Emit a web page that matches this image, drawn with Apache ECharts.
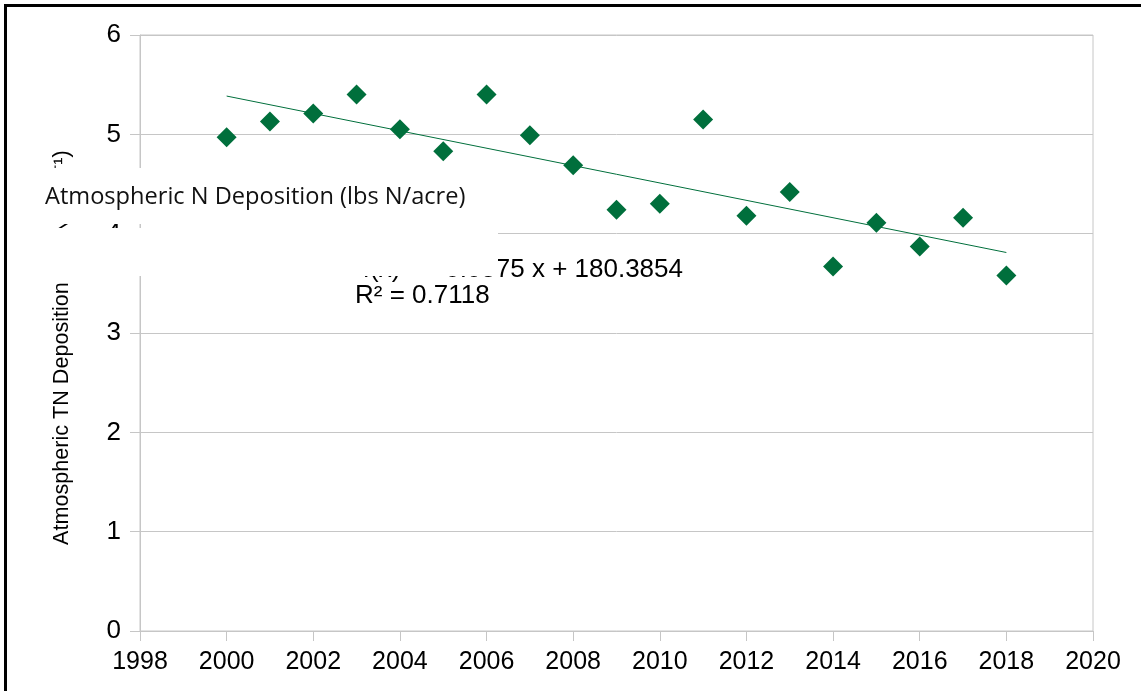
<!DOCTYPE html>
<html>
<head>
    <meta charset="utf-8">
    <title>Atmospheric N Deposition</title>
    <script src="https://cdn.jsdelivr.net/npm/echarts@6/dist/echarts.min.js"></script>
    <style>
        html, body, #main {
            width: 100%;
            height: 100%;
            padding: 0;
            margin: 0;
            background: #fff;
        }
    </style>
</head>
<body>
<div id="main"></div>
<script type="text/javascript">
    // values
    var years = [2000, 2001, 2002, 2003, 2004, 2005, 2006, 2007, 2008, 2009,
                 2010, 2011, 2012, 2013, 2014, 2015, 2016, 2017, 2018];
    var deposition = [4.97, 5.13, 5.21, 5.40, 5.05, 4.83, 5.40, 4.99, 4.69, 4.24,
                      4.30, 5.15, 4.18, 4.42, 3.67, 4.11, 3.87, 4.16, 3.58];
    // linear trend end points (f(x) = -0.0875 x + 180.3854)
    var trendYears = [2000, 2018];
    var trendValues = [5.3854, 3.8104];

    var green = '#006f3c';
    var gridGray = '#c6c6c6';
    var axisFont = 'Liberation Sans, Arial, sans-serif';

    var chart = echarts.init(document.getElementById('main'));

    chart.setOption({
        animation: false,
        grid: {
            left: 140,
            right: 48,
            top: 35,
            bottom: 60,
            show: true,
            borderColor: gridGray,
            borderWidth: 1
        },
        xAxis: {
            type: 'value',
            min: 1998,
            max: 2020,
            interval: 2,
            axisLine: {lineStyle: {color: gridGray}},
            axisTick: {show: true, length: 10, lineStyle: {color: gridGray}},
            splitLine: {show: false},
            axisLabel: {
                color: '#000',
                fontSize: 25,
                fontFamily: axisFont,
                margin: 19,
                formatter: function (v) {
                    return String(v);
                }
            }
        },
        yAxis: {
            type: 'value',
            min: 0,
            max: 6,
            interval: 1,
            axisLine: {show: true, lineStyle: {color: gridGray}},
            axisTick: {show: true, length: 10, lineStyle: {color: gridGray}},
            splitLine: {lineStyle: {color: gridGray}},
            axisLabel: {
                color: '#000',
                fontSize: 26,
                fontFamily: axisFont,
                margin: 19
            }
        },
        series: [
            {
                type: 'scatter',
                symbol: 'diamond',
                symbolSize: 20,
                itemStyle: {color: green, opacity: 1},
                data: years.map(function (y, i) {
                    return [y, deposition[i]];
                }),
                z: 3
            },
            {
                type: 'line',
                symbol: 'none',
                lineStyle: {color: green, width: 1},
                data: trendYears.map(function (y, i) {
                    return [y, trendValues[i]];
                }),
                z: 2
            }
        ],
        graphic: [
            // y axis title
            {
                type: 'text',
                x: 62,
                y: 545,
                rotation: Math.PI / 2,
                z: 50,
                style: {
                    text: 'Atmospheric TN Deposition (lbs N acre\u207B\u00B9)',
                    fontSize: 21.6,
                    fontFamily: axisFont,
                    fill: '#000',
                    textAlign: 'left',
                    textVerticalAlign: 'middle'
                }
            },
            // trend equation
            {
                type: 'text',
                x: 683,
                y: 270,
                z: 50,
                style: {
                    text: 'f(x) = \u22120.0875 x + 180.3854',
                    fontSize: 26,
                    fontFamily: axisFont,
                    fill: '#000',
                    textAlign: 'right',
                    textVerticalAlign: 'middle'
                }
            },
            {
                type: 'text',
                x: 355,
                y: 296,
                z: 50,
                style: {
                    text: 'R\u00B2 = 0.7118',
                    fontSize: 26,
                    fontFamily: axisFont,
                    fill: '#000',
                    textAlign: 'left',
                    textVerticalAlign: 'middle'
                }
            },
            // white patches laid over the chart
            {
                type: 'rect',
                z: 60,
                shape: {x: 8, y: 168, width: 492, height: 56},
                style: {fill: '#fff'}
            },
            {
                type: 'rect',
                z: 60,
                shape: {x: 8, y: 228, width: 490, height: 48},
                style: {fill: '#fff'}
            },
            {
                type: 'text',
                x: 45,
                y: 197,
                z: 70,
                style: {
                    text: 'Atmospheric N Deposition (lbs N/acre)',
                    fontSize: 23.6,
                    fontFamily: 'Open Sans, Noto Sans, sans-serif',
                    fill: '#111',
                    textAlign: 'left',
                    textVerticalAlign: 'middle'
                }
            },
            // black frame
            {
                type: 'polyline',
                z: 80,
                shape: {points: [[5.5, 691], [5.5, 5.5], [1141, 5.5]]},
                style: {stroke: '#000', lineWidth: 3, fill: null}
            }
        ]
    });

    window.onresize = function () {
        chart.resize();
    };
</script>
</body>
</html>
